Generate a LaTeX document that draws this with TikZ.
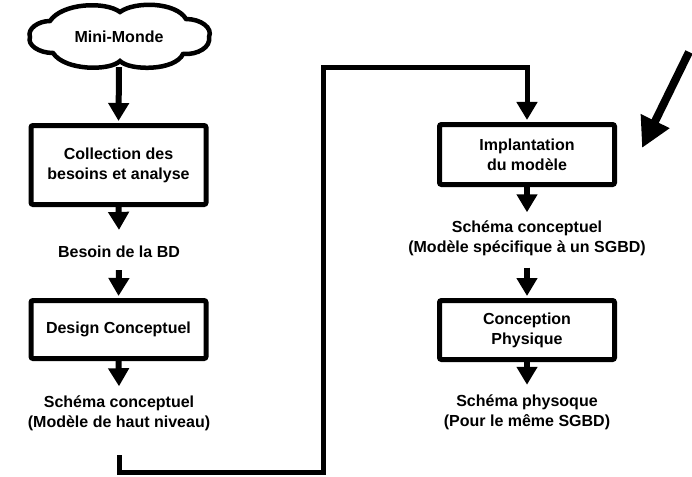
\documentclass[tikz,border=0pt]{standalone}
\usepackage{fontspec}
\setmainfont{Liberation Sans}
\usetikzlibrary{arrows.meta}
\newcommand\lblfont{\bfseries\fontsize{16}{20}\selectfont}
\begin{document}
\begin{tikzpicture}[x=1pt,y=-1pt,
  box/.style={draw, line width=5pt, rounded corners=2pt, minimum width=175pt,
              align=center, font=\lblfont, inner sep=0pt},
  lbl/.style={align=center, font=\lblfont, inner sep=0pt},
  arr/.style={line width=6pt, -{Triangle[width=20pt,length=18pt]}},
  conn/.style={line width=5pt, line join=miter, -{Triangle[width=20pt,length=18pt]}},
  bigarr/.style={line width=8pt, -{Triangle[width=30pt,length=30pt]}},
  cloudline/.style={line width=4.5pt, fill=white}]
\useasboundingbox (0,0) rectangle (692,476);
\fill[white] (0,0) rectangle (692,476);

% cloud outline
\draw[cloudline] (30,37)
  .. controls (27,29) and (38,21) .. (50,21)
  .. controls (62,3) and (105,1) .. (120,12)
  .. controls (135,1) and (176,2) .. (186,19)
  .. controls (201,19) and (213,28) .. (209,37)
  .. controls (211,47) and (198,55) .. (183,54)
  .. controls (175,71) and (130,71) .. (120,61)
  .. controls (110,71) and (65,71) .. (53,53)
  .. controls (39,53) and (27,45) .. (30,37) -- cycle;

\node[lbl, minimum width=180pt, minimum height=60pt] (mm) at (119,37) {Mini-Monde};
\node[box, minimum height=79pt] (b1) at (118.5,165) {Collection des\\besoins et analyse};
\node[lbl] (l1) at (119,252) {Besoin de la BD};
\node[box, minimum height=58pt] (b2) at (118.5,329.5) {Design Conceptuel};
\node[lbl] (l2) at (119,413) {Schéma conceptuel\\(Modèle de haut niveau)};
\coordinate (s) at (119,455);
\coordinate (c1) at (323,472);
\coordinate (c2) at (323,68);
\node[box, minimum height=60pt] (b3) at (527,154.5) {Implantation\\du modèle};
\node[lbl] (l3) at (527,238) {Schéma conceptuel\\(Modèle spécifique à un SGBD)};
\node[box, minimum height=59pt] (b4) at (527,330) {Conception\\Physique};
\node[lbl] (l4) at (527,412.5) {Schéma physoque\\(Pour le même SGBD)};
\coordinate (bs) at (689,52);
\coordinate (bt) at (642,148);

\draw[arr, shorten >=2pt] (mm.south) -- (b1.north);
\draw[arr] (b1.south) -- ([yshift=16pt]l1.north);
\draw[arr, shorten >=2pt] ([yshift=-12pt]l1.south) -- (b2.north);
\draw[arr] (b2.south) -- ([yshift=9pt]l2.north);
\draw[conn, shorten >=2pt] (s) |- (c1) -- (c2) -| (b3.north);
\draw[arr] (b3.south) -- ([yshift=8pt]l3.north);
\draw[arr, shorten >=2pt] ([yshift=-12pt]l3.south) -- (b4.north);
\draw[arr] (b4.south) -- ([yshift=10pt]l4.north);
\draw[bigarr] (bs) -- (bt);
\end{tikzpicture}
\end{document}
